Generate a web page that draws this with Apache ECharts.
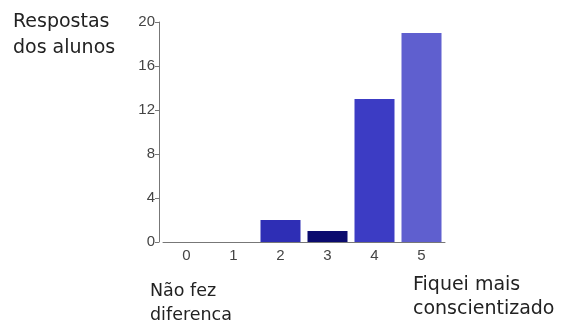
<!DOCTYPE html>
<html>
<head>
<meta charset="utf-8">
<script src="https://cdn.jsdelivr.net/npm/echarts@6/dist/echarts.min.js"></script>
<style>
  html, body { margin: 0; padding: 0; background: #fff; }
  #main { width: 562px; height: 322px; }
</style>
</head>
<body>
<div id="main"></div>
<script>
// dados
var categorias = ['0', '1', '2', '3', '4', '5'];
var respostas = [0, 0, 2, 1, 13, 19];
var yTicks = [0, 4, 8, 12, 16, 20];

// cores das barras
var cores = ['#2e2eb5', '#2e2eb5', '#2e2eb5', '#0b0b6e', '#3c3cc4', '#5f5fcf'];

var myChart = echarts.init(document.getElementById('main'));

var option = {
    backgroundColor: '#fff',
    animation: false,
    grid: { left: 163, top: 22, width: 282, height: 220 },
    xAxis: {
        type: 'category',
        data: categorias,
        axisLine: { lineStyle: { color: '#777', width: 1 } },
        axisTick: { alignWithLabel: true, length: 4, lineStyle: { color: '#777' } },
        axisLabel: { color: '#444', fontSize: 15, fontFamily: 'Liberation Sans', margin: 6 }
    },
    yAxis: {
        type: 'value',
        min: yTicks[0],
        max: yTicks[yTicks.length - 1],
        interval: 4,
        offset: 4,
        splitLine: { show: false },
        axisLine: { show: true, lineStyle: { color: '#777', width: 1 } },
        axisTick: { show: true, length: 4, lineStyle: { color: '#777' } },
        axisLabel: { color: '#444', fontSize: 15, fontFamily: 'Liberation Sans', margin: 4 }
    },
    series: [{
        type: 'bar',
        data: respostas,
        barWidth: 40,
        itemStyle: {
            color: function (p) { return cores[p.dataIndex]; }
        }
    }],
    graphic: [
        {
            type: 'text', left: 13, top: 9,
            style: { text: 'Respostas\ndos alunos', font: '19px "DejaVu Sans"', fill: '#222', lineHeight: 26 }
        },
        {
            type: 'text', left: 150, top: 279,
            style: { text: 'Não fez\ndiferenca', font: '17.5px "DejaVu Sans"', fill: '#222', lineHeight: 24 }
        },
        {
            type: 'text', left: 413, top: 273,
            style: { text: 'Fiquei mais\nconscientizado', font: '19px "DejaVu Sans"', fill: '#222', lineHeight: 24 }
        }
    ]
};

myChart.setOption(option);
</script>
</body>
</html>
